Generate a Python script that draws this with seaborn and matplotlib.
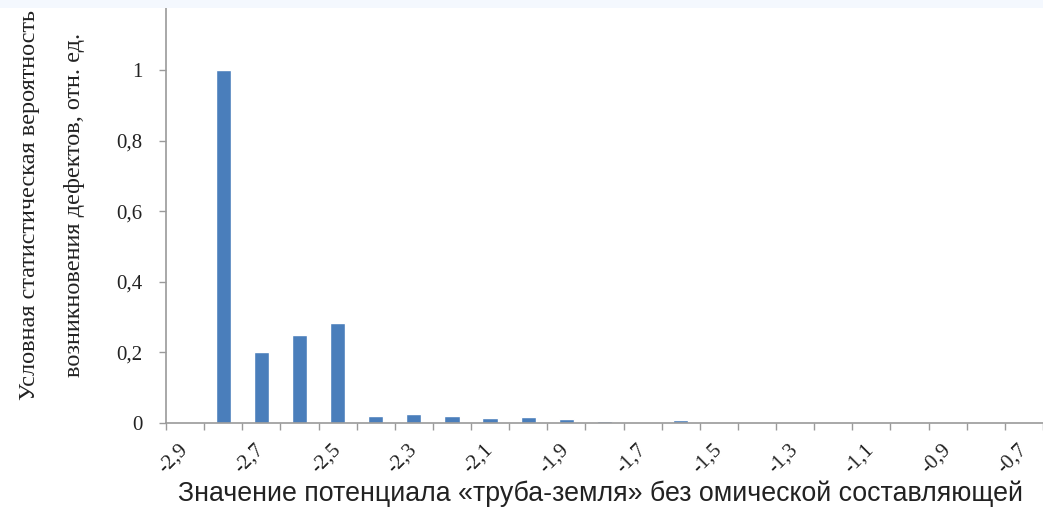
import numpy as np
import pandas as pd
import matplotlib
matplotlib.use("Agg")
import matplotlib.pyplot as plt
import seaborn as sns

# Pipe-to-soil potential categories (V) and conditional defect probability
potentials = [-2.9, -2.8, -2.7, -2.6, -2.5, -2.4, -2.3, -2.2, -2.1, -2.0, -1.9, -1.8,
              -1.7, -1.6, -1.5, -1.4, -1.3, -1.2, -1.1, -1.0, -0.9, -0.8, -0.7]
probability = [0.0, 1.0, 0.2, 0.25, 0.285, 0.019, 0.026, 0.019, 0.013, 0.016, 0.010, 0.006,
               0.003, 0.008, 0.003, 0.002, 0.002, 0.002, 0.0, 0.0, 0.0, 0.0, 0.0]
y_ticks = [0, 0.2, 0.4, 0.6, 0.8, 1.0]
y_tick_labels = ["0", "0,2", "0,4", "0,6", "0,8", "1"]

def fmt(v):
    return f"{v:.1f}".replace(".", ",")

cat_labels = [fmt(v) for v in potentials]
df = pd.DataFrame({"potential": cat_labels, "p": probability})

sns.set_theme(style="white")
plt.rcParams["font.family"] = ["Liberation Serif", "DejaVu Serif"]

fig = plt.figure(figsize=(10.43, 5.12), dpi=100)
fig.patch.set_facecolor("white")
# pale band along the top edge
fig.patches.append(plt.Rectangle((0, 1 - 8 / 512), 1, 8 / 512, transform=fig.transFigure,
                                 facecolor="#f4f8fe", edgecolor="none", zorder=0))

ax = fig.add_axes([166 / 1043, 1 - 423 / 512, 1 - 166 / 1043, (423 - 8) / 512])
ax.set_facecolor("none")

sns.barplot(data=df, x="potential", y="p", order=cat_labels, color="#4a7ebb",
            saturation=1, width=0.4, ax=ax)

n = len(potentials)
ax.set_xlim(-0.5, 22.1)
ax.set_ylim(0, 1.177)

# tick marks on category boundaries
ax.set_xticks(np.arange(-0.5, n, 1.0))
ax.set_xticklabels([])
ax.tick_params(axis="x", which="major", direction="out", length=5, width=1,
               color="#9a9a9a", bottom=True)
# labels on every second category centre
centres = np.arange(0, n, 2)
ax.set_xticks(centres, minor=True)
ax.set_xticklabels([cat_labels[i] for i in centres], minor=True, rotation=45,
                   ha="right", va="center", rotation_mode="anchor",
                   fontsize=15, color="#222222")
ax.tick_params(axis="x", which="minor", length=0, pad=17)

ax.set_yticks(y_ticks)
ax.set_yticklabels(y_tick_labels, fontsize=15, color="#222222")
ax.tick_params(axis="y", direction="out", length=5, width=1, color="#9a9a9a",
               left=True, pad=12)

for s in ["top", "right"]:
    ax.spines[s].set_visible(False)
for s in ["left", "bottom"]:
    ax.spines[s].set_color("#9a9a9a")
    ax.spines[s].set_linewidth(1.2)

ax.set_xlabel("")
ax.set_ylabel("")

fig.text(30 / 1043, 1 - 205 / 512, "Условная статистическая вероятность",
         rotation=90, ha="center", va="center", fontsize=17.5, color="#222222")
fig.text(75 / 1043, 1 - 205 / 512, "возникновения дефектов, отн. ед.",
         rotation=90, ha="center", va="center", fontsize=17.5, color="#222222")

fig.text(600 / 1043, 1 - 494 / 512,
         "Значение потенциала «труба-земля» без омической составляющей",
         ha="center", va="center", fontsize=19.3, color="#222222",
         family=["Liberation Sans", "DejaVu Sans"])

fig.savefig("out.png", dpi=100, facecolor=fig.get_facecolor())
